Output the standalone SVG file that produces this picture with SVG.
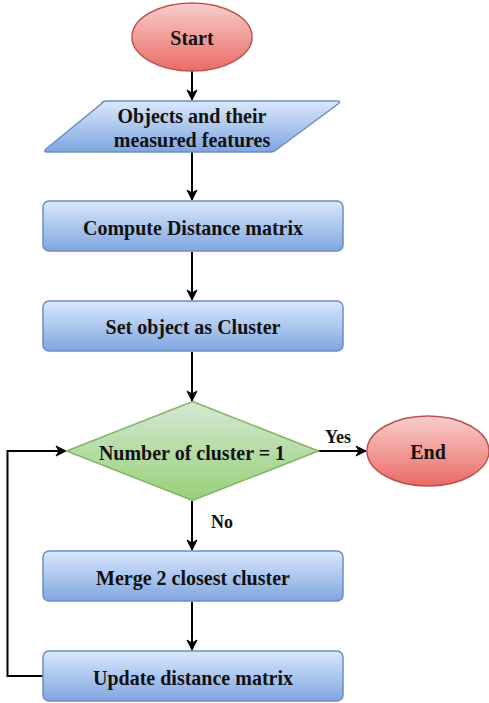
<svg xmlns="http://www.w3.org/2000/svg" width="489" height="703" viewBox="0 0 489 703">
<defs>
<linearGradient id="gBlue" x1="0" y1="0" x2="0" y2="1"><stop offset="0" stop-color="#dae8fc"/><stop offset="1" stop-color="#7ea6e0"/></linearGradient>
<linearGradient id="gRed" x1="0" y1="0" x2="0" y2="1"><stop offset="0" stop-color="#f8cecc"/><stop offset="1" stop-color="#ea6b66"/></linearGradient>
<linearGradient id="gGreen" x1="0" y1="0" x2="0" y2="1"><stop offset="0" stop-color="#d5e8d4"/><stop offset="1" stop-color="#97d077"/></linearGradient>
<marker id="arr" markerWidth="12" markerHeight="12" viewBox="0 0 12 12" refX="11" refY="6" orient="auto" markerUnits="userSpaceOnUse">
<path d="M1,1 L11,6 L1,11 L4,6 Z" fill="#000" stroke="#000" stroke-width="1"/>
</marker>
</defs>
<style>
.blue{fill:url(#gBlue);stroke:#6c8ebf;stroke-width:1.5}
.red{fill:url(#gRed);stroke:#b85450;stroke-width:1.5}
.green{fill:url(#gGreen);stroke:#82b366;stroke-width:1.5}
.t{font-family:"Liberation Serif","Times New Roman",serif;font-weight:bold;font-size:20px;fill:#111;text-anchor:middle}
.lbl{font-family:"Liberation Serif","Times New Roman",serif;font-weight:bold;font-size:18px;fill:#111;text-anchor:middle}
.c{fill:none;stroke:#000;stroke-width:2}
</style>
<g id="connectors">
<line class="c" x1="192" y1="71" x2="192" y2="100" marker-end="url(#arr)"/>
<line class="c" x1="192" y1="152" x2="192" y2="200" marker-end="url(#arr)"/>
<line class="c" x1="192" y1="252" x2="192" y2="300" marker-end="url(#arr)"/>
<line class="c" x1="192" y1="352" x2="192" y2="401" marker-end="url(#arr)"/>
<line class="c" x1="318" y1="451" x2="366" y2="451" marker-end="url(#arr)"/>
<line class="c" x1="192" y1="501" x2="192" y2="550" marker-end="url(#arr)"/>
<line class="c" x1="192" y1="602" x2="192" y2="650" marker-end="url(#arr)"/>
<polyline class="c" points="43,676 7.5,676 7.5,451 66,451" marker-end="url(#arr)"/>
<text class="lbl" x="338" y="443">Yes</text>
<text class="lbl" x="222" y="528">No</text>
</g>
<g id="start"><ellipse class="red" cx="192" cy="37" rx="60" ry="34"/><text class="t" x="192" y="45">Start</text></g>
<g id="objects"><path class="blue" d="M106,101 L338,101 Q341,101 338,104 L276,150 Q274,152 270,152 L47,152 Q43,152 46,149 L101,104 Q103,101 106,101 Z"/><text class="t" x="192" y="123">Objects and their</text><text class="t" x="192" y="147">measured features</text></g>
<g id="compute"><rect class="blue" x="43" y="201" width="300" height="50" rx="6"/><text class="t" x="193" y="235">Compute Distance matrix</text></g>
<g id="setobj"><rect class="blue" x="43" y="301" width="300" height="50" rx="6"/><text class="t" x="193" y="334">Set object as Cluster</text></g>
<g id="decision"><path class="green" d="M192.5,401.5 L318.5,451 L192.5,500.5 L66.5,451 Z"/><text class="t" x="192" y="460">Number of cluster = 1</text></g>
<g id="end"><ellipse class="red" cx="428" cy="451" rx="61" ry="35"/><text class="t" x="428" y="459">End</text></g>
<g id="merge"><rect class="blue" x="43" y="551" width="300" height="50" rx="6"/><text class="t" x="193" y="585">Merge 2 closest cluster</text></g>
<g id="update"><rect class="blue" x="43" y="651" width="300" height="50" rx="6"/><text class="t" x="193" y="685">Update distance matrix</text></g>
</svg>
